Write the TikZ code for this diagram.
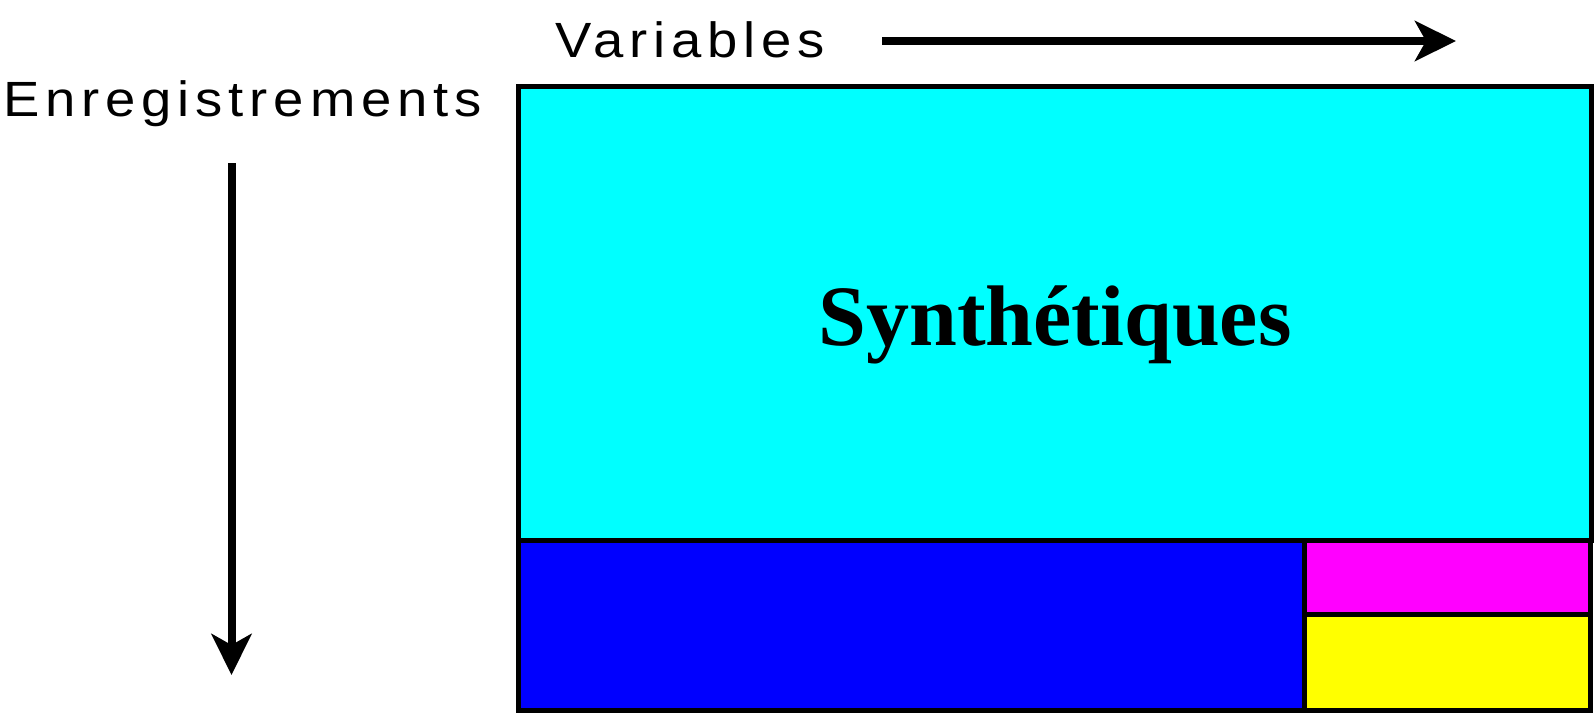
\documentclass[tikz,border=0pt]{standalone}
\usepackage{fontspec}
\usepackage{graphicx}
\usetikzlibrary{arrows.meta}
\newfontfamily\lblfont[LetterSpace=10.8]{Liberation Sans}
\newfontfamily\titlefont{Liberation Serif}
\definecolor{fillcyan}{RGB}{0,255,255}
\definecolor{fillblue}{RGB}{0,0,255}
\definecolor{fillmagenta}{RGB}{255,0,255}
\definecolor{fillyellow}{RGB}{255,255,0}
\newcommand{\widelabel}[1]{\scalebox{1.1}[1]{\lblfont\fontsize{49.5}{50}\selectfont #1}}
\tikzset{
  block/.style={draw=black, line width=5pt, inner sep=0pt, outer sep=0pt,
    anchor=north west},
  axis/.style={line width=8pt,
    -{Stealth[length=41pt, width=40pt, inset=11pt]}},
  axislabel/.style={inner sep=0pt, anchor=base west},
}
\begin{document}
\begin{tikzpicture}[x=1pt, y=-1pt]
  \useasboundingbox (0,0) rectangle (1594,721);

  % data table split into parts
  \node[block, fill=fillcyan, minimum width=1073pt, minimum height=453.5pt]
    (synth) at (518.5,86.5) {};
  \node[block, fill=fillblue, minimum width=786pt, minimum height=170.5pt]
    (blue) at (518.5,540) {};
  \node[block, fill=fillmagenta, minimum width=286pt, minimum height=74pt]
    (mag) at (1304.5,540) {};
  \node[block, fill=fillyellow, minimum width=286pt, minimum height=96.5pt]
    (yel) at (1304.5,614) {};

  \node[inner sep=0pt, anchor=base,
        font=\titlefont\bfseries\fontsize{86}{90}\selectfont]
    (synthlabel) at (1055,345) {Synthétiques};

  % axis labels
  \node[axislabel] (varlabel) at (555,57) {\widelabel{Variables}};
  \node[axislabel] (enrlabel) at (3,116) {\widelabel{Enregistrements}};

  % axis arrows
  \coordinate (hstart) at (882,41);
  \coordinate (hend) at (1456,41);
  \coordinate (vstart) at (231.5,163);
  \coordinate (vend) at (231.5,675);
  \draw[axis] (hstart) -- (hend);
  \draw[axis] (vstart) -- (vend);
\end{tikzpicture}
\end{document}
